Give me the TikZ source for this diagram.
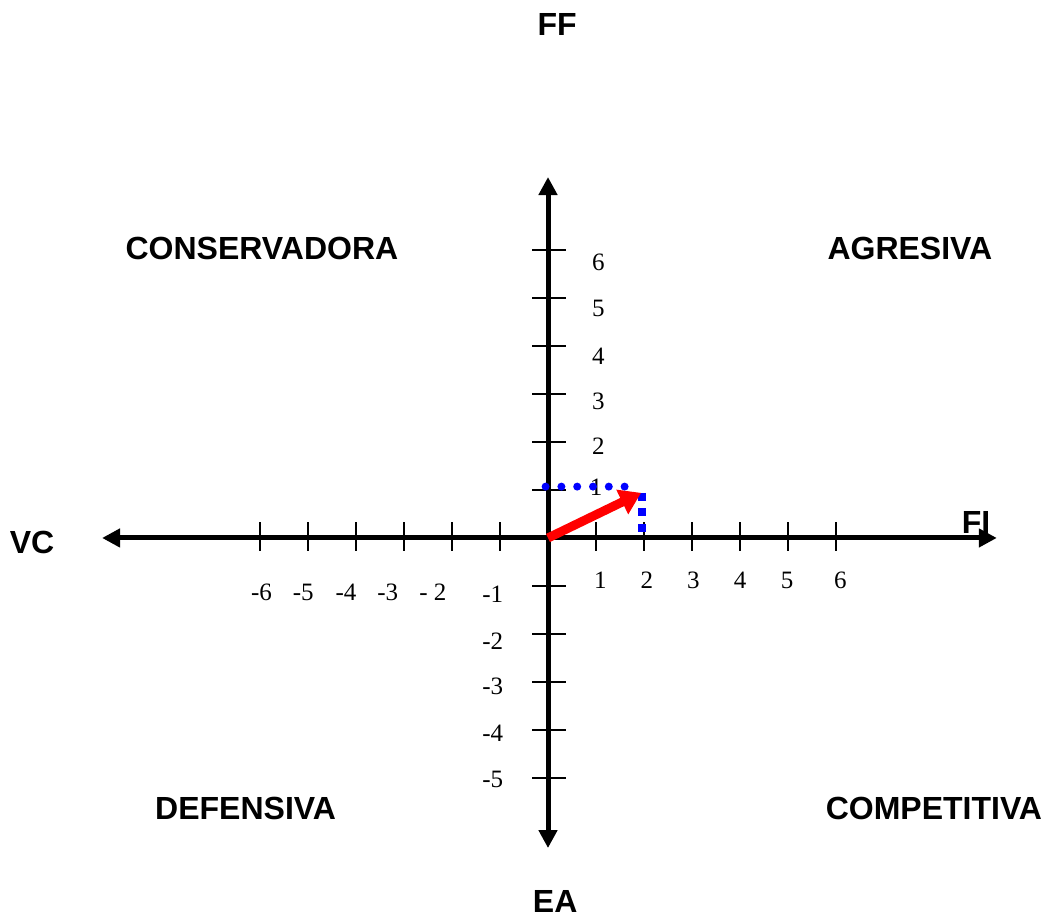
\documentclass[tikz,border=0pt]{standalone}
\usepackage{fontspec}
\setmainfont{Liberation Serif}
\setsansfont{Liberation Sans}
\usetikzlibrary{arrows.meta,positioning}

\tikzset{
  axis/.style={line width=5pt, -{Triangle[length=18pt,width=18pt]}},
  tickmark/.style={line width=2pt},
  num/.style={font=\fontsize{25}{30}\selectfont, anchor=base, inner sep=0pt},
  quad/.style={font=\sffamily\bfseries\fontsize{32}{38}\selectfont, anchor=base, inner sep=0pt}
}

\begin{document}
\begin{tikzpicture}[x=48pt, y=48pt]

  \useasboundingbox (-11.417,-7.958) rectangle (10.396,11.208);

  % ── Axis end points ──────────────────────────────────────────────────
  \coordinate (O)  at (0,0);
  \coordinate (xl) at (-9.29,0);
  \coordinate (xr) at (9.35,0);
  \coordinate (yt) at (0,7.52);
  \coordinate (yb) at (0,-6.46);

  % ── Tick labels ──────────────────────────────────────────────────────
  \node[num] (xm6) at (-5.97,-1.31) {-6};
  \node[num] (xm5) at (-5.10,-1.31) {-5};
  \node[num] (xm4) at (-4.21,-1.31) {-4};
  \node[num] (xm3) at (-3.34,-1.31) {-3};
  \node[num] (xm2) at (-2.40,-1.31) {- 2};
  \node[num] (xp1) at (1.09,-1.05) {1};
  \node[num] (xp2) at (2.06,-1.05) {2};
  \node[num] (xp3) at (3.03,-1.05) {3};
  \node[num] (xp4) at (4.00,-1.05) {4};
  \node[num] (xp5) at (4.98,-1.05) {5};
  \node[num] (xp6) at (6.09,-1.05) {6};

  \node[num] (yp1) at (1.00,0.88) {1};
  \node[num] (yp2) at (1.05,1.73) {2};
  \node[num] (yp3) at (1.05,2.67) {3};
  \node[num] (yp4) at (1.05,3.61) {4};
  \node[num] (yp5) at (1.05,4.61) {5};
  \node[num] (yp6) at (1.05,5.57) {6};
  \node[num] (ym1) at (-1.15,-1.35) {-1};
  \node[num] (ym2) at (-1.15,-2.32) {-2};
  \node[num] (ym3) at (-1.15,-3.27) {-3};
  \node[num] (ym4) at (-1.15,-4.24) {-4};
  \node[num] (ym5) at (-1.15,-5.19) {-5};

  % ── Axes with ticks ──────────────────────────────────────────────────
  \draw[axis] (O) -- (xr);
  \draw[axis] (O) -- (xl);
  \draw[axis] (O) -- (yt);
  \draw[axis] (O) -- (yb);

  \foreach \i in {-6,...,-1,1,2,...,6}
    \draw[tickmark] (\i,-0.27) -- (\i,0.33);
  \foreach \j in {-5,...,-1,1,2,...,6}
    \draw[tickmark] (-0.33,\j) -- (0.38,\j);

  % ── Axis names and quadrants ─────────────────────────────────────────
  \node[quad] (ff) at (0.19,10.46) {FF};
  \node[quad] (ea) at (0.15,-7.80) {EA};
  \node[quad] (vc) at (-10.75,-0.32) {VC};
  \node[quad] (fi) at (8.92,0.10) {FI};

  \node[quad] (cons) at (-5.96,5.81) {CONSERVADORA};
  \node[quad] (agre) at (7.54,5.81) {AGRESIVA};
  \node[quad] (defe) at (-6.30,-5.875) {DEFENSIVA};
  \node[quad] (comp) at (8.04,-5.875) {COMPETITIVA};

  % ── Position vector ──────────────────────────────────────────────────
  \coordinate (hA) at (-0.05,1.07);
  \coordinate (hB) at (1.61,1.07);
  \coordinate (vA) at (1.95,0.9375);
  \coordinate (vB) at (1.95,0.125);
  \coordinate (P)  at (1.94,0.94);

  \draw[blue, line width=8pt, line cap=round, dash pattern=on 0pt off 15.8pt]
    (hA) -- (hB);
  \draw[blue, line width=8pt, dash pattern=on 8pt off 7.5pt] (vA) -- (vB);

  \draw[red, line width=9pt, -{Triangle[length=21pt,width=26pt]}] (O) -- (P);

\end{tikzpicture}
\end{document}
